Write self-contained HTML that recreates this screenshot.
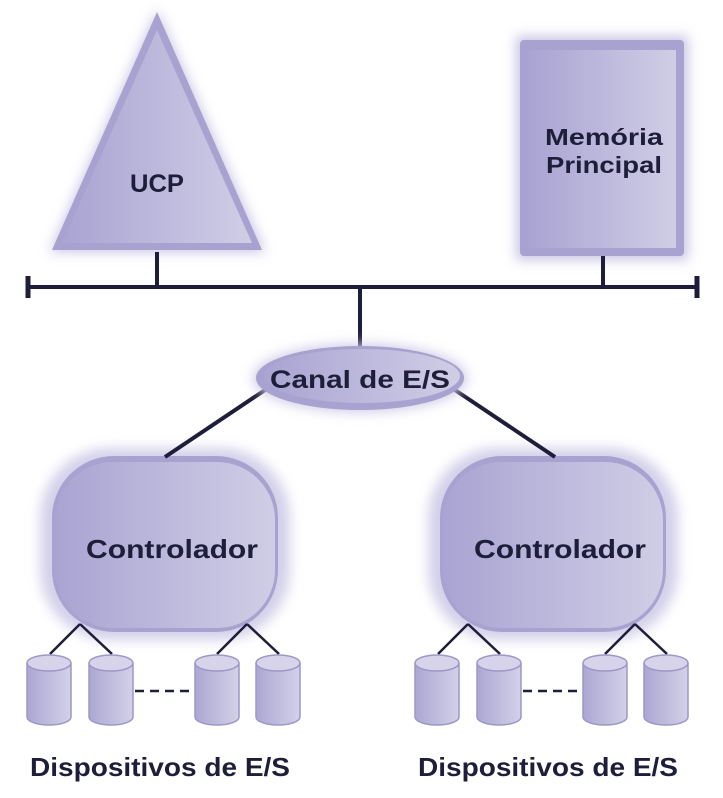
<!DOCTYPE html>
<html><head><meta charset="utf-8"><style>
html,body{margin:0;padding:0;background:#fff;}
svg text{font-family:"Liberation Sans",sans-serif;font-weight:bold;fill:#1e1d3a;}
</style></head><body>
<svg width="723" height="793" viewBox="0 0 723 793" xmlns="http://www.w3.org/2000/svg">
<defs>
<linearGradient id="g" x1="0" x2="1" y1="0" y2="0">
<stop offset="0" stop-color="#a9a4d2"/><stop offset="1" stop-color="#d0cde6"/>
</linearGradient>
<filter id="blur" x="-20%" y="-20%" width="140%" height="140%"><feGaussianBlur stdDeviation="6"/></filter>
<linearGradient id="cyl" x1="0" x2="1"><stop offset="0" stop-color="#aca7d3"/><stop offset="1" stop-color="#d3d0e8"/></linearGradient>
<g id="c">
<path d="M0,8 L0,62 A22,8 0 0 0 44,62 L44,8" fill="url(#cyl)" stroke="#9c97c6" stroke-width="1.5"/>
<ellipse cx="22" cy="8" rx="22" ry="8" fill="#d6d3ea" stroke="#9c97c6" stroke-width="1.5"/>
</g>
</defs>
<!-- triangle -->
<polygon points="157,10 50,252 265,252" fill="#c9c5e4" filter="url(#blur)"/>
<polygon points="157,12 52,250 262,250" fill="#a7a2cf"/>
<polygon points="157,30 62,243 252,243" fill="url(#g)"/>
<text x="157" y="192" font-size="25" text-anchor="middle" textLength="54" lengthAdjust="spacingAndGlyphs">UCP</text>
<!-- memory -->
<rect x="516" y="36" width="172" height="224" fill="#c9c5e4" filter="url(#blur)"/>
<rect x="520" y="40" width="164" height="216" rx="4" fill="#a7a2cf"/>
<rect x="528" y="50" width="148" height="198" fill="url(#g)"/>
<text x="604" y="145" font-size="23" text-anchor="middle" textLength="118" lengthAdjust="spacingAndGlyphs">Memória</text>
<text x="604" y="173" font-size="23" text-anchor="middle" textLength="116" lengthAdjust="spacingAndGlyphs">Principal</text>
<!-- controllers -->
<g id="ctl">
<rect x="40" y="448" width="250" height="192" rx="70" fill="#d3d0e9" filter="url(#blur)"/>
<rect x="52" y="456" width="226" height="176" rx="62" fill="#a7a2cf"/>
<rect x="55" y="462" width="220" height="166" rx="58" fill="url(#g)"/>
<text x="172" y="558" font-size="26" text-anchor="middle" textLength="172" lengthAdjust="spacingAndGlyphs">Controlador</text>
<g stroke="#1e1d3a" stroke-width="2.5">
<line x1="80" y1="624" x2="50" y2="654"/><line x1="80" y1="624" x2="112" y2="654"/>
<line x1="247" y1="624" x2="217" y2="654"/><line x1="247" y1="624" x2="279" y2="654"/>
</g>
<use href="#c" x="27" y="655"/><use href="#c" x="89" y="655"/>
<use href="#c" x="195" y="655"/><use href="#c" x="256" y="655"/>
<line x1="135" y1="691" x2="195" y2="691" stroke="#1e1d3a" stroke-width="2.5" stroke-dasharray="9,6"/>
<text x="160" y="776" font-size="26" text-anchor="middle" textLength="260" lengthAdjust="spacingAndGlyphs">Dispositivos de E/S</text>
</g>
<use href="#ctl" x="388" y="0"/>
<!-- bus -->
<g stroke="#1e1d3a" stroke-width="4" fill="none">
<line x1="28" y1="287" x2="697" y2="287"/>
<line x1="28" y1="276" x2="28" y2="298" stroke-width="5"/>
<line x1="697" y1="276" x2="697" y2="298" stroke-width="5"/>
<line x1="157" y1="252" x2="157" y2="287"/>
<line x1="603" y1="256" x2="603" y2="287"/>
<line x1="360" y1="287" x2="360" y2="350"/>
<line x1="265" y1="390" x2="165" y2="457"/>
<line x1="455" y1="390" x2="555" y2="457"/>
</g>
<!-- canal -->
<ellipse cx="360" cy="378" rx="107" ry="34" fill="#cfcbe6" filter="url(#blur)"/>
<ellipse cx="360" cy="378" rx="104" ry="32" fill="#a7a2cf"/>
<ellipse cx="362" cy="376" rx="98" ry="27" fill="url(#g)"/>
<text x="360" y="388" font-size="25" text-anchor="middle" textLength="180" lengthAdjust="spacingAndGlyphs">Canal de E/S</text>
</svg>
</body></html>
